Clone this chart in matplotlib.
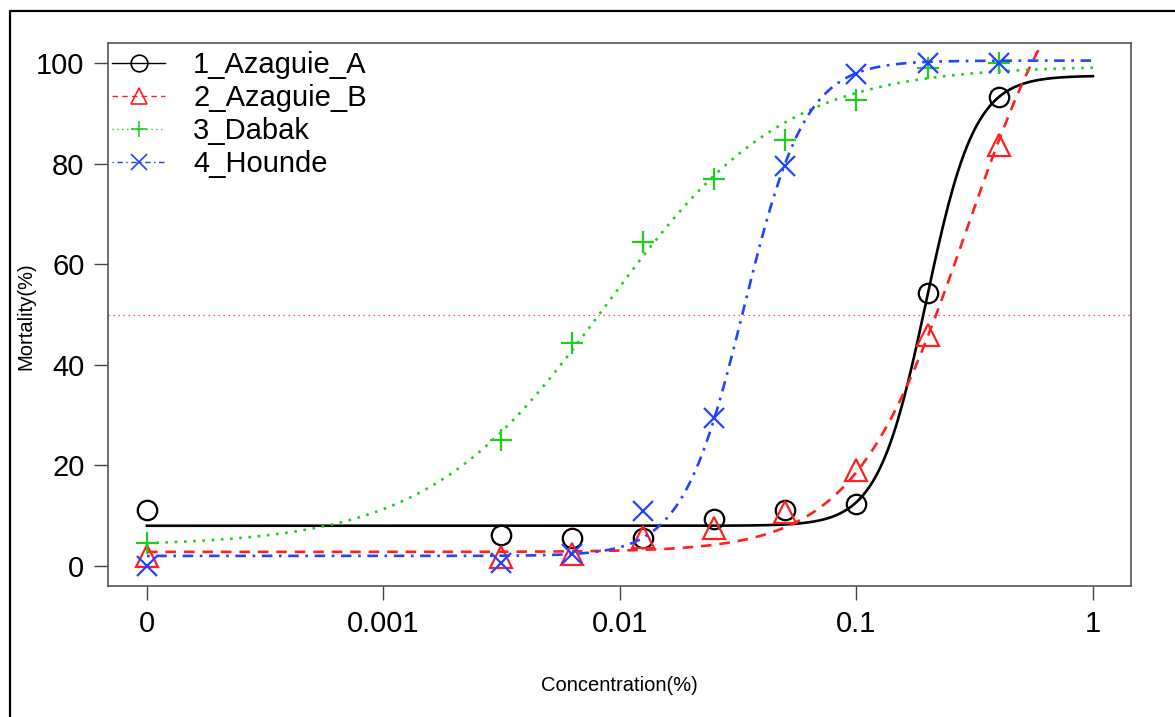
import numpy as np
import matplotlib
matplotlib.use('Agg')
import matplotlib.pyplot as plt
from matplotlib.lines import Line2D

plt.rcParams['font.family'] = ['Liberation Sans', 'DejaVu Sans']

# doses (0 is drawn at the broken-axis position 1e-4)
conc = [0, 0.003125, 0.00625, 0.0125, 0.025, 0.05, 0.1, 0.2, 0.4]
zero_pos = 1e-4

# observed mortality (%)
azaguie_a = [11.1, 6.2, 5.6, 5.6, 9.3, 11.1, 12.3, 54.2, 93.2]
azaguie_b = [2.0, 1.8, 2.4, 5.8, 7.5, 10.7, 19.0, 46.0, 83.7]
dabak = [4.6, 25.0, 44.3, 64.4, 77.0, 84.7, 92.6, 99.0, 100.0]
hounde = [0.0, 0.6, 2.4, 11.0, 29.4, 79.5, 97.8, 100.0, 100.0]

# fitted log-logistic parameters (b, c, d, e)
fit_a = (-4.25, 8.0, 97.5, 0.1975)
fit_b = (-1.83, 2.8, 130.0, 0.29)
fit_dabak = (-1.15, 4.0, 99.5, 0.0087)
fit_hounde = (-3.33, 2.0, 100.5, 0.0334)

labels = ['1_Azaguie_A', '2_Azaguie_B', '3_Dabak', '4_Hounde']
colors = ['black', '#FF2020', '#22CC22', '#2244FF']
markers = ['o', '^', '+', 'x']
dashes = [None, (4, 3), (1, 2.5), (1, 2.5, 4, 2.5)]


def ll4(x, b, c, d, e):
    return c + (d - c) / (1 + np.exp(b * (np.log(x) - np.log(e))))


fig = plt.figure(figsize=(11.75, 7.17), dpi=100)
ax = fig.add_axes([108 / 1175, 1 - 586 / 717, (1131 - 108) / 1175, (586 - 43) / 717])

xplot = [zero_pos if c == 0 else c for c in conc]
xs = np.logspace(-4, 0, 400)

handles = []
for obs, fit, lab, col, mk, ds in zip([azaguie_a, azaguie_b, dabak, hounde],
                                       [fit_a, fit_b, fit_dabak, fit_hounde],
                                       labels, colors, markers, dashes):
    line, = ax.plot(xs, ll4(xs, *fit), color=col, lw=1.9)
    if ds is not None:
        line.set_dashes(ds)
    ms = 16 if mk in ('+', '^') else 14
    ax.plot(xplot, obs, linestyle='none', marker=mk, markersize=ms,
            markerfacecolor='none', markeredgecolor=col, markeredgewidth=1.6)
    h = Line2D([], [], color=col, lw=1.0, marker=mk, markersize=12,
               markerfacecolor='none', markeredgecolor=col, markeredgewidth=1.2)
    if ds is not None:
        h.set_dashes(ds)
    handles.append(h)

ax.axhline(50, color='#FF2020', lw=0.9, linestyle=(0, (1, 3)))

ax.set_xscale('log')
ax.set_xlim(10 ** -4.165, 10 ** 0.161)
ax.set_ylim(-3.98, 104.0)
ax.set_xticks([1e-4, 1e-3, 1e-2, 1e-1, 1])
ax.set_xticklabels(['0', '0.001', '0.01', '0.1', '1'])
ax.xaxis.set_minor_locator(matplotlib.ticker.NullLocator())
ax.set_yticks([0, 20, 40, 60, 80, 100])
ax.tick_params(labelsize=21, length=10, width=1.0, color='#444444', pad=7)
for s in ax.spines.values():
    s.set_color('#555555')
    s.set_linewidth(1.2)

# axis titles placed in axes coordinates
ax.set_xlabel('Concentration(%)', fontsize=14.5)
ax.set_ylabel('Mortality(%)', fontsize=14.5)
ax.xaxis.set_label_coords(0.5, (586 - 676) / 543)
ax.yaxis.set_label_coords((35 - 108) / 1023, 0.497)

ax.legend(handles, labels, loc='upper left', bbox_to_anchor=(0.0, 1 - 4.0 / 543),
          frameon=False, fontsize=21, handlelength=1.82, handletextpad=0.95,
          labelspacing=0.17, borderaxespad=0.0, borderpad=0.15)

# outer frame (left and top edges are visible in the picture)
fig.add_artist(Line2D([10 / 1175, 10 / 1175, 1.0], [0.0, 1 - 11 / 717, 1 - 11 / 717],
                      transform=fig.transFigure, color='black', lw=1.6))

fig.savefig('out.png', dpi=100)
plt.close(fig)
